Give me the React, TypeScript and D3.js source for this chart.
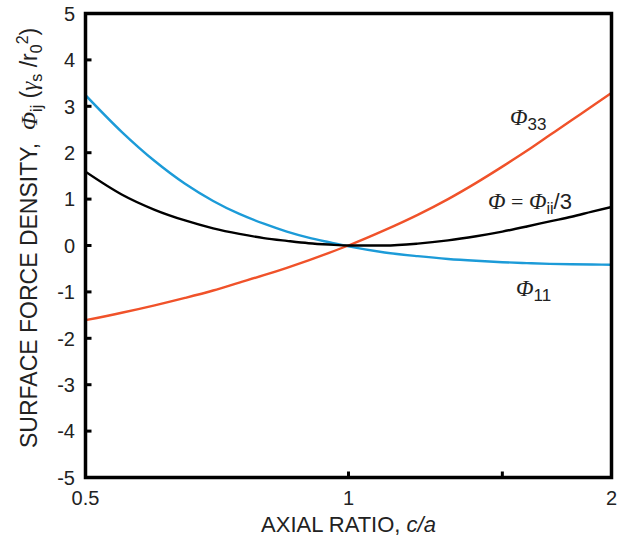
import * as d3 from "d3";

// axial ratio c/a (log axis)
const ratio = [0.5, 0.55, 0.6, 0.65, 0.7, 0.75, 0.8, 0.85, 0.9, 0.95, 1.0, 1.1, 1.2, 1.3, 1.4, 1.5, 1.6, 1.7, 1.8, 1.9, 2.0];
const phi11 = [3.24, 2.45, 1.82, 1.33, 0.96, 0.68, 0.47, 0.3, 0.17, 0.07, -0.02, -0.15, -0.23, -0.29, -0.33, -0.36, -0.38, -0.395, -0.405, -0.41, -0.415];
const phi33 = [-1.61, -1.45, -1.29, -1.13, -0.97, -0.8, -0.64, -0.48, -0.32, -0.16, 0.0, 0.33, 0.66, 1.0, 1.35, 1.7, 2.04, 2.38, 2.7, 3.0, 3.29];
const phiMean = [1.59, 1.1, 0.77, 0.54, 0.37, 0.25, 0.16, 0.1, 0.05, 0.02, 0.0, 0.0, 0.04, 0.11, 0.2, 0.3, 0.41, 0.52, 0.62, 0.73, 0.83];

const yTicks = [5, 4, 3, 2, 1, 0, -1, -2, -3, -4, -5];
const xTicks = [0.5, 1, 1.5, 2];
const xTickLabels = [{ v: 0.5, t: "0.5" }, { v: 1, t: "1" }, { v: 2, t: "2" }];

const W = 626, H = 545;
const M = { l: 85.5, r: 611.5, t: 13.5, b: 477.5 };
const SANS = "'Liberation Sans', Arial, Helvetica, sans-serif";
const SERIF = "'Liberation Serif', 'Times New Roman', serif";

const BLUE = "#1C9BD8", ORANGE = "#F0522A";

export default function App() {
  const sx = d3.scaleLog().domain([0.5, 2]).range([M.l, M.r]);
  const sy = d3.scaleLinear().domain([-5, 5]).range([M.b, M.t]);
  const line = (vals: number[]) =>
    d3.line<number>().x((_, i) => sx(ratio[i])).y(d => sy(d)).curve(d3.curveMonotoneX)(vals) || "";

  return (
    <svg width={W} height={H} viewBox={`0 0 ${W} ${H}`} style={{ display: "block", position: "absolute", left: 0, top: 0, background: "#fff" }}>
      <defs>
        <clipPath id="plot"><rect x={M.l} y={M.t} width={M.r - M.l} height={M.b - M.t} /></clipPath>
      </defs>
      <g clipPath="url(#plot)" fill="none" strokeWidth={2.4}>
        <path d={line(phi11)} stroke={BLUE} />
        <path d={line(phi33)} stroke={ORANGE} />
        <path d={line(phiMean)} stroke="#000" />
      </g>

      {/* ticks, inward */}
      {yTicks.map(t => <line key={t} x1={M.l} x2={M.l + 6} y1={sy(t)} y2={sy(t)} stroke="#000" strokeWidth={3} />)}
      {xTicks.map(t => <line key={t} x1={sx(t)} x2={sx(t)} y1={M.b} y2={M.b - 6} stroke="#000" strokeWidth={3} />)}
      <rect x={M.l} y={M.t} width={M.r - M.l} height={M.b - M.t} fill="none" stroke="#000" strokeWidth={3.5} />

      <g fontFamily={SANS} fontSize={20} fill="#222">
        {yTicks.map(t => <text key={t} x={75} y={sy(t)} dy="0.36em" textAnchor="end">{t}</text>)}
        {xTickLabels.map(d => <text key={d.t} x={sx(d.v)} y={505} textAnchor="middle">{d.t}</text>)}
        <text x={(M.l + M.r) / 2} y={532} textAnchor="middle" fontSize={22}>
          AXIAL RATIO, <tspan fontStyle="italic">c/a</tspan>
        </text>
        <text transform={`translate(37 448) rotate(-90)`} textAnchor="start" fontSize={23}>
          SURFACE FORCE DENSITY,{"\u00a0\u00a0"}
          <tspan fontFamily={SERIF} fontStyle="italic" fontSize={24}>Φ</tspan>
          <tspan fontSize={16} dy={5}>ij</tspan>
          <tspan dy={-5}> (</tspan>
          <tspan fontFamily={SERIF} fontStyle="italic">γ</tspan>
          <tspan fontSize={16} dy={5}>s</tspan>
          <tspan dy={-5}> /r</tspan>
          <tspan fontSize={16} dy={5}>0</tspan>
          <tspan fontSize={16} dy={-14}>2</tspan>
          <tspan dy={9}>)</tspan>
        </text>
      </g>

      {/* curve labels */}
      <g fontFamily={SANS} fill="#222">
        <text x={510} y={125}>
          <tspan fontFamily={SERIF} fontStyle="italic" fontSize={23}>Φ</tspan>
          <tspan fontSize={17} dy={5}>33</tspan>
        </text>
        <text x={488} y={209} fontSize={22}>
          <tspan fontFamily={SERIF} fontStyle="italic" fontSize={23}>Φ</tspan>
          <tspan fontFamily={SERIF}> = </tspan>
          <tspan fontFamily={SERIF} fontStyle="italic" fontSize={23}>Φ</tspan>
          <tspan fontSize={16} dy={5}>ii</tspan>
          <tspan dy={-5}>/3</tspan>
        </text>
        <text x={516} y={296}>
          <tspan fontFamily={SERIF} fontStyle="italic" fontSize={23}>Φ</tspan>
          <tspan fontSize={17} dy={5}>11</tspan>
        </text>
      </g>
    </svg>
  );
}
